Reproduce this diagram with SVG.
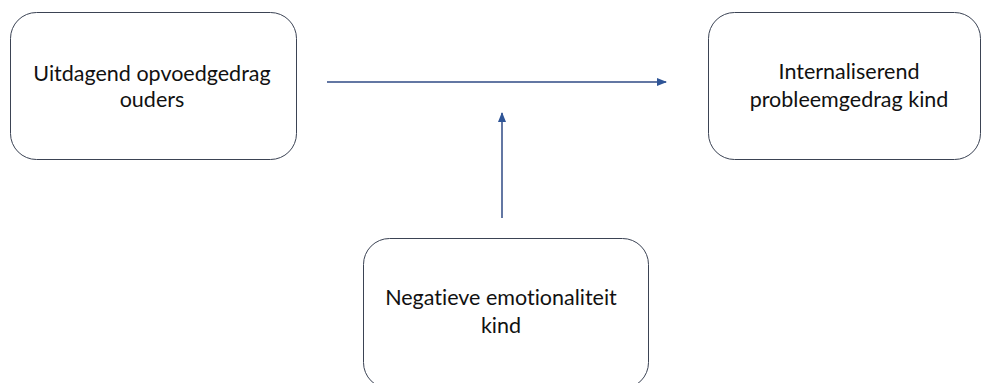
<svg xmlns="http://www.w3.org/2000/svg" width="981" height="383" viewBox="0 0 981 383">
<style>
.box{fill:#fff;stroke:#3b4354;stroke-width:1}
.t{font-family:Lato,"Open Sans","Liberation Sans",sans-serif;font-size:21.5px;fill:#111;text-anchor:middle;font-variant-ligatures:none}
.c{stroke:#2f4a85;stroke-width:1.5;fill:none}
</style>
<defs>
<marker id="ah" markerWidth="10" markerHeight="8" refX="9" refY="4" orient="auto" markerUnits="userSpaceOnUse">
<path d="M0,0 L10,4 L0,8 Z" fill="#2f5597"/>
</marker>
</defs>
<rect width="981" height="383" fill="#fff"/>
<g id="node-ouders">
<rect class="box" x="10.5" y="12.5" width="286" height="147" rx="26"/>
<text class="t" x="152" y="81">Uitdagend opvoedgedrag</text>
<text class="t" x="152" y="107">ouders</text>
</g>
<g id="node-kind">
<rect class="box" x="708.5" y="12.5" width="272" height="147" rx="26"/>
<text class="t" x="849" y="79">Internaliserend</text>
<text class="t" x="849" y="107">probleemgedrag kind</text>
</g>
<g id="node-emotionaliteit">
<rect class="box" x="363.5" y="238.5" width="285" height="150" rx="26"/>
<text class="t" x="501" y="305">Negatieve emotionaliteit</text>
<text class="t" x="501" y="333">kind</text>
</g>
<g id="connectors">
<line class="c" x1="327" y1="82" x2="666" y2="82" marker-end="url(#ah)"/>
<line class="c" x1="502" y1="218" x2="502" y2="113" marker-end="url(#ah)"/>
</g>
</svg>
